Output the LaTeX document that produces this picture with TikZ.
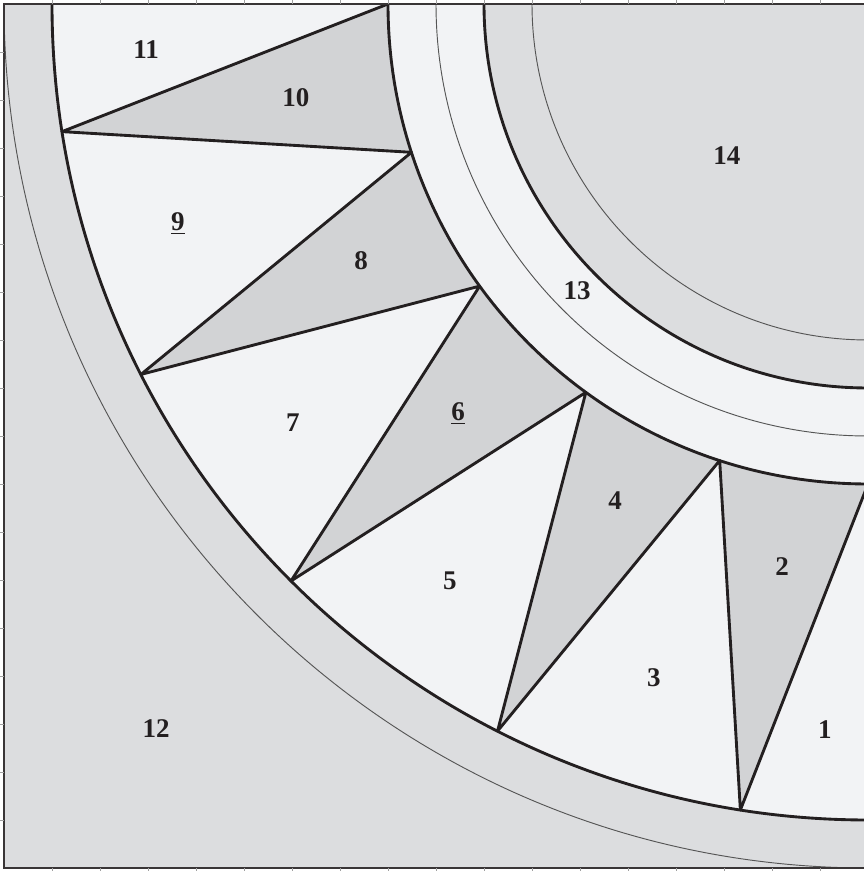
\documentclass[tikz,border=0pt]{standalone}
\usepackage{fontspec}
\setmainfont{Liberation Serif}
\usepackage{tikz}
\usetikzlibrary{calc}
\definecolor{patchgray}{HTML}{DCDDDF}
\definecolor{patchlight}{HTML}{F2F3F5}
\definecolor{patchdark}{HTML}{D2D3D5}
\definecolor{seamblack}{HTML}{231F20}
\definecolor{guidegray}{HTML}{555555}
\definecolor{tickgray}{HTML}{A0A0A0}
\tikzstyle{seam} = [line width=1.7pt, draw=seamblack, line join=round]
\tikzstyle{guide} = [line width=0.55pt, draw=guidegray]
\tikzstyle{frame} = [line width=1pt, draw=seamblack!90]
\tikzstyle{tick} = [line width=0.5pt, draw=tickgray]
\tikzstyle{patchnum} = [font=\fontsize{16}{16}\selectfont\bfseries, text=seamblack, inner sep=0pt, text depth=0pt]

\begin{document}
\begin{tikzpicture}
    \useasboundingbox (-0.0833,-0.0625) rectangle (17.896,18.083);
    \coordinate (C) at (18,18);
    % star points on the inner and outer circles
    \foreach \k in {0,...,5}
        \coordinate (in\k) at ($(C)+(180+18*\k:10)$);
    \foreach \k in {0,...,4}
        \coordinate (out\k) at ($(C)+(189+18*\k:17)$);
    \begin{scope}
        \clip (0,0) rectangle (18,18);
        \fill[patchgray] (0,0) rectangle (18,18);
        \fill[patchlight] (C) circle (17);
        \foreach \k [evaluate=\k as \n using int(\k+1)] in {0,...,4}
            \fill[patchdark] (in\k) -- (out\k) -- (in\n) -- cycle;
        \fill[patchlight] (C) circle (10);
        \fill[patchgray] (C) circle (8);
        \draw[guide] (C) circle (18) (C) circle (9) (C) circle (7);
        \draw[seam] (C) circle (17) (C) circle (10) (C) circle (8);
        \draw[seam] (in0) -- (out0) -- (in1) -- (out1) -- (in2) -- (out2)
            -- (in3) -- (out3) -- (in4) -- (out4) -- (in5);
    \end{scope}
    \draw[frame] (0,0) rectangle (18,18);
    \foreach \t in {1,...,17} {
        \draw[tick] (\t,18) -- ++(0,0.09);
        \draw[tick] (0,\t) -- ++(-0.09,0);
        \draw[tick] (\t,0) -- ++(0,-0.09);
    }
    % patch numbers
    \node[patchnum] (p1) at (17.10,2.88) {1};
    \node[patchnum] (p2) at (16.21,6.27) {2};
    \node[patchnum] (p3) at (13.54,3.96) {3};
    \node[patchnum] (p4) at (12.73,7.65) {4};
    \node[patchnum] (p5) at (9.29,5.98) {5};
    \node[patchnum] (p6) at (9.46,9.50) {\underline{6}};
    \node[patchnum] (p7) at (6.02,9.27) {7};
    \node[patchnum] (p8) at (7.44,12.65) {8};
    \node[patchnum] (p9) at (3.62,13.46) {\underline{9}};
    \node[patchnum] (p10) at (6.08,16.06) {10};
    \node[patchnum] (p11) at (2.96,17.04) {11};
    \node[patchnum] (p12) at (3.17,2.90) {12};
    \node[patchnum] (p13) at (11.94,12.02) {13};
    \node[patchnum] (p14) at (15.06,14.85) {14};
\end{tikzpicture}
\end{document}
